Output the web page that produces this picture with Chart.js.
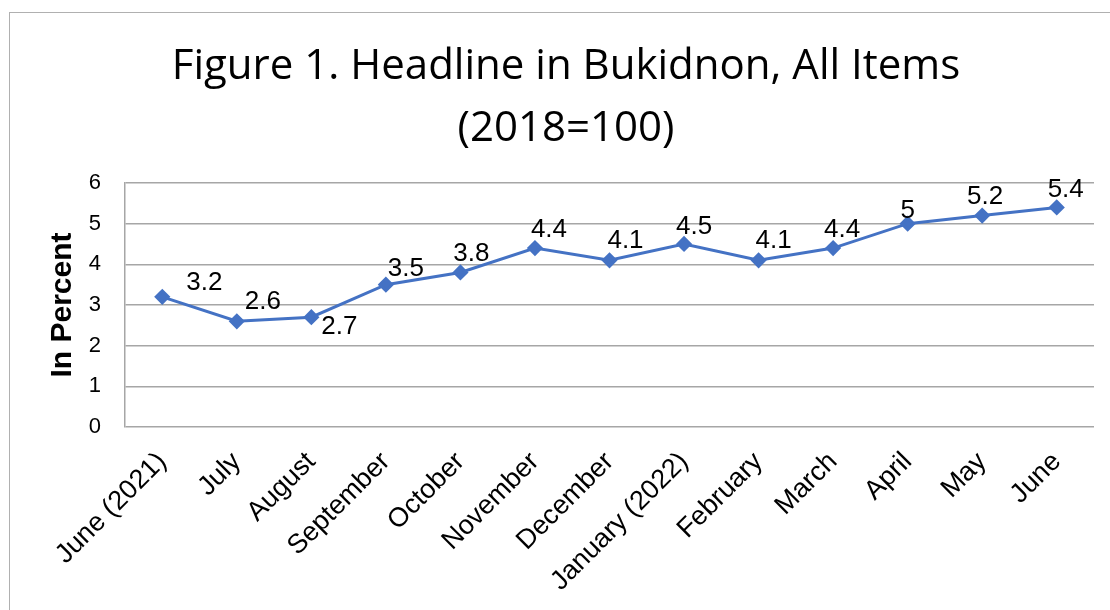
<!DOCTYPE html>
<html>
<head>
<meta charset="utf-8">
<script src="https://cdn.jsdelivr.net/npm/chart.js@4.4.1/dist/chart.umd.min.js"></script>
<style>
  html, body { margin:0; padding:0; background:#fff; overflow:hidden; }
  .frame { position:absolute; left:9px; top:12px; width:1120px; height:620px; border:1.5px solid #b0b0b0; box-sizing:border-box; }
  .wrap { position:absolute; left:38px; top:13px; width:1056px; height:597px; }
</style>
</head>
<body>
<div class="frame"></div>
<div class="wrap"><canvas id="c"></canvas></div>
<script>
const MONTHS = ['June (2021)','July','August','September','October','November','December','January (2022)','February','March','April','May','June'];
const HEADLINE = [3.2, 2.6, 2.7, 3.5, 3.8, 4.4, 4.1, 4.5, 4.1, 4.4, 5, 5.2, 5.4];
const Y_TICKS = [0, 1, 2, 3, 4, 5, 6];

// where each value label sits relative to its marker (px)
const LABEL_SHIFT = [[42,-14],[26,-19],[28,10],[20,-16],[11,-19],[14,-18],[16,-19],[10,-17],[15,-19],[9,-18],[0,-13],[3,-19],[9,-18]];

const valueLabels = {
  id:'valueLabels',
  afterDatasetsDraw(chart){
    const ctx = chart.ctx;
    const meta = chart.getDatasetMeta(0);
    ctx.save();
    ctx.font = '26px "Liberation Sans", Arial, sans-serif';
    ctx.fillStyle = '#000';
    ctx.textAlign = 'center';
    ctx.textBaseline = 'middle';
    meta.data.forEach((pt, i) => {
      const s = LABEL_SHIFT[i] || [0,-18];
      ctx.fillText(String(HEADLINE[i]), pt.x + s[0], pt.y + s[1]);
    });
    ctx.restore();
  }
};

new Chart(document.getElementById('c'), {
  type:'line',
  data:{ labels:MONTHS, datasets:[{
    data:HEADLINE, borderColor:'#4472C4', backgroundColor:'#4472C4', borderWidth:3,
    pointStyle:'rectRot', pointRadius:6, pointHoverRadius:6, tension:0, fill:false
  }]},
  options:{
    responsive:true, maintainAspectRatio:false, animation:false,
    layout:{ padding:0, autoPadding:false },
    plugins:{
      legend:{ display:false }, tooltip:{ enabled:false },
      title:{ display:true, text:['Figure 1. Headline in Bukidnon, All Items','(2018=100)'],
        color:'#000', font:{ family:'"Open Sans", sans-serif', size:42, weight:'normal', lineHeight:1.476 },
        padding:{ top:23, bottom:23 } }
    },
    scales:{
      x:{
        offset:true,
        grid:{ display:false, drawTicks:false },
        border:{ display:false },
        ticks:{ color:'#000', font:{ family:'"Liberation Sans", Arial', size:27 }, maxRotation:45, minRotation:45, padding:19, autoSkip:false },
        afterFit(s){ s.height = 183; s.paddingLeft = 0; s.paddingRight = 0; }
      },
      y:{
        min:0, max:6,
        afterBuildTicks(s){ s.ticks = Y_TICKS.map(v => ({ value:v })); },
        grid:{ color:'#a6a6a6', lineWidth:1.5, drawTicks:false },
        border:{ display:true, color:'#a6a6a6', width:1.5 },
        ticks:{ color:'#000', font:{ family:'"Liberation Sans", Arial', size:22 }, padding:24 },
        title:{ display:true, text:'In Percent', color:'#000', font:{ family:'"Liberation Sans", Arial', size:30, weight:'bold' }, padding:{ top:7, bottom:0 } },
        afterFit(s){ s.width = 87; }
      }
    }
  },
  plugins:[valueLabels]
});
</script>
</body>
</html>
